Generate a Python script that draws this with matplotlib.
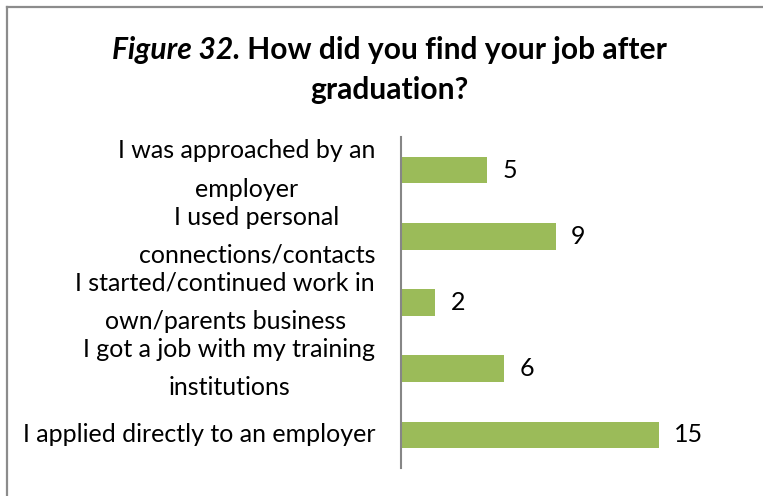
import matplotlib
matplotlib.use("Agg")
import matplotlib.pyplot as plt
from matplotlib.lines import Line2D

# Survey responses: how graduates found their job
categories = [
    "I applied directly to an employer",
    "I got a job with my training\ninstitutions",
    "I started/continued work in\nown/parents business",
    "I used personal\nconnections/contacts",
    "I was approached by an\nemployer",
]
counts = [15, 6, 2, 9, 5]

title_italic = "Figure 32."
title_rest = " How did you find your job after"
title_line2 = "graduation?"

FONT = "Lato"
BAR_COLOR = "#9BBB59"
AXIS_COLOR = "#868686"
LABEL_SIZE = 18
TITLE_SIZE = 21.6

W, H = 763, 496
fig = plt.figure(figsize=(W / 100, H / 100), dpi=100)
fig.patch.set_facecolor("white")

# Chart frame (top and left edges)
fig.add_artist(Line2D([6.5 / W, 1.0], [1 - 6.5 / H, 1 - 6.5 / H],
                      transform=fig.transFigure, color="#8c8c8c", lw=1.6))
fig.add_artist(Line2D([6.5 / W, 6.5 / W], [0.0, 1 - 6.5 / H],
                      transform=fig.transFigure, color="#8c8c8c", lw=1.6))

ax_left, ax_right = 401 / W, 710.6 / W
ax_top, ax_bottom = 1 - 137 / H, 1 - 468 / H
ax = fig.add_axes([ax_left, ax_bottom, ax_right - ax_left, ax_top - ax_bottom])

y = range(len(categories))
bars = ax.barh(y, counts, height=0.4, color=BAR_COLOR, zorder=2)
ax.set_xlim(0, 18)
ax.set_ylim(-0.5, len(categories) - 0.5)

for spine in ["top", "right", "bottom"]:
    ax.spines[spine].set_visible(False)
ax.spines["left"].set_color(AXIS_COLOR)
ax.spines["left"].set_linewidth(1.5)
ax.set_xticks([])
ax.set_yticks(list(y))
ax.set_yticklabels(categories, fontfamily=FONT, fontsize=LABEL_SIZE,
                   multialignment="center", linespacing=1.8)
for lbl in ax.get_yticklabels():
    lbl.set_verticalalignment("center")
ax.tick_params(axis="y", length=0, pad=18.7)

for rect, v in zip(bars, counts):
    ax.annotate(f"{v}", xy=(rect.get_width(), rect.get_y() + rect.get_height() / 2),
                xytext=(11, 0), textcoords="offset points",
                ha="left", va="center", fontfamily=FONT, fontsize=LABEL_SIZE)

# Title: italic-bold figure number followed by bold question
renderer = fig.canvas.get_renderer()
cx = 389.5 / W
y1 = 1 - 50 / H
y2 = 1 - 90 / H
t1 = fig.text(0, y1, title_italic, fontfamily=FONT, fontsize=TITLE_SIZE,
              fontweight="bold", fontstyle="italic", va="center", ha="left")
t2 = fig.text(0, y1, title_rest, fontfamily=FONT, fontsize=TITLE_SIZE,
              fontweight="bold", va="center", ha="left")
w1 = t1.get_window_extent(renderer).width / W
w2 = t2.get_window_extent(renderer).width / W
x0 = cx - (w1 + w2) / 2
t1.set_x(x0)
t2.set_x(x0 + w1)
fig.text(cx, y2, title_line2, fontfamily=FONT, fontsize=TITLE_SIZE,
         fontweight="bold", va="center", ha="center")

fig.savefig("out.png", dpi=100, facecolor="white")
